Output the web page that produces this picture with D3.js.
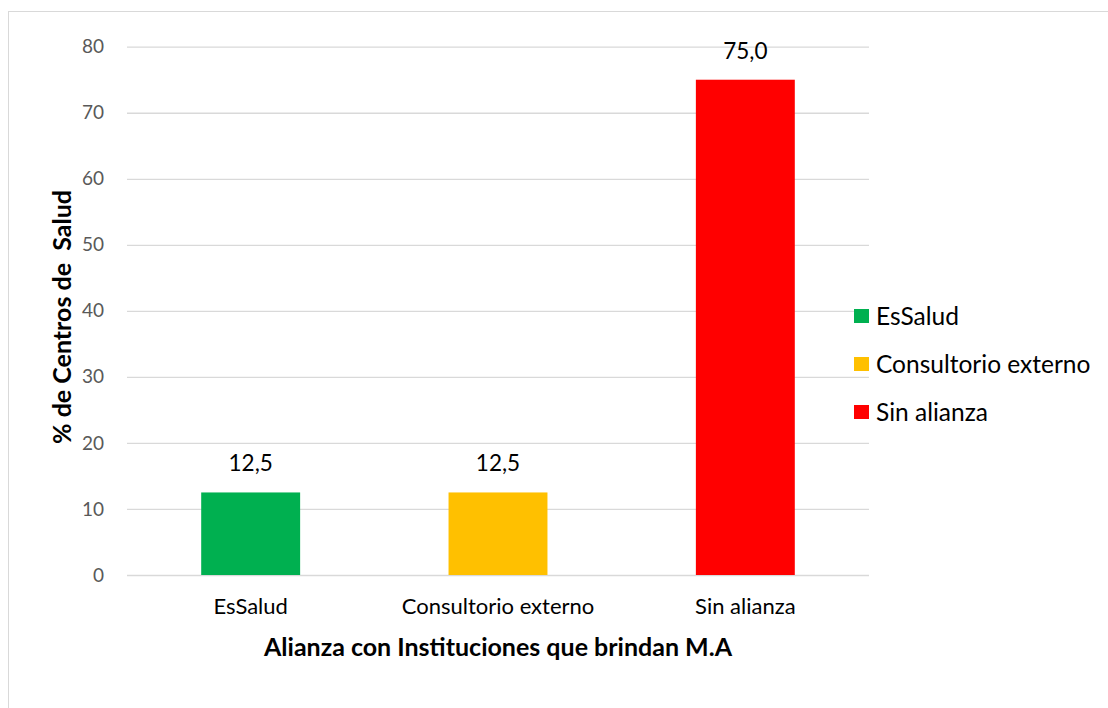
<!DOCTYPE html>
<html>
<head>
<meta charset="utf-8">
<script src="https://cdn.jsdelivr.net/npm/d3@7"></script>
<style>
  body { margin: 0; background: #fff; }
  svg text { font-family: Lato, "Open Sans", sans-serif; }
</style>
</head>
<body>
<div id="chart"></div>
<script>
// data
var categories = ['EsSalud', 'Consultorio externo', 'Sin alianza'];
var values = [12.5, 12.5, 75.0];
var colors = ['#00B050', '#FFC000', '#FF0000'];
var yTicks = [0, 10, 20, 30, 40, 50, 60, 70, 80];

var width = 1108, height = 708;
var plot = {left: 127, right: 869, top: 46.7, bottom: 575};

var svg = d3.select('#chart').append('svg')
    .attr('width', width)
    .attr('height', height);

// chart border
svg.append('rect')
    .attr('x', 8.5).attr('y', 11.5)
    .attr('width', 1200).attr('height', 800)
    .attr('fill', 'none')
    .attr('stroke', '#D9D9D9');

var x = d3.scaleBand()
    .domain(categories)
    .range([plot.left, plot.right])
    .paddingInner(0.6)
    .paddingOuter(0.3);

var y = d3.scaleLinear()
    .domain([0, 80])
    .range([plot.bottom, plot.top]);

// grid + y labels
var yAxis = d3.axisLeft(y)
    .tickValues(yTicks)
    .tickSize(-(plot.right - plot.left))
    .tickPadding(23)
    .tickFormat(d3.format('d'));

var gY = svg.append('g')
    .attr('transform', 'translate(' + plot.left + ',0)')
    .call(yAxis);
gY.select('.domain').remove();
gY.selectAll('line').attr('stroke', '#D9D9D9').attr('stroke-width', 1.3);
gY.selectAll('text')
    .attr('fill', '#595959')
    .style('font-size', '19px');

// bars
svg.append('g').selectAll('rect')
    .data(values)
    .enter().append('rect')
    .attr('x', function (d, i) { return x(categories[i]); })
    .attr('y', function (d) { return y(d); })
    .attr('width', x.bandwidth())
    .attr('height', function (d) { return y(0) - y(d); })
    .attr('fill', function (d, i) { return colors[i]; });

// value labels
var fmt = function (d) { return d.toFixed(1).replace('.', ','); };
svg.append('g').selectAll('text')
    .data(values)
    .enter().append('text')
    .attr('x', function (d, i) { return x(categories[i]) + x.bandwidth() / 2; })
    .attr('y', function (d) { return y(d) - 21; })
    .attr('text-anchor', 'middle')
    .attr('fill', '#000')
    .style('font-size', '22.5px')
    .text(fmt);

// category labels
svg.append('g').selectAll('text')
    .data(categories)
    .enter().append('text')
    .attr('x', function (d) { return x(d) + x.bandwidth() / 2; })
    .attr('y', plot.bottom + 39)
    .attr('text-anchor', 'middle')
    .attr('fill', '#000')
    .style('font-size', '22px')
    .text(function (d) { return d; });

// axis titles
svg.append('text')
    .attr('x', (plot.left + plot.right) / 2)
    .attr('y', 656)
    .attr('text-anchor', 'middle')
    .style('font-size', '25px')
    .style('font-weight', 'bold')
    .text('Alianza con Instituciones que brindan M.A');

svg.append('text')
    .attr('transform', 'translate(71,317) rotate(-90)')
    .attr('text-anchor', 'middle')
    .style('font-size', '25px')
    .style('font-weight', 'bold')
    .style('white-space', 'pre')
    .text('% de Centros de  Salud');

// legend
var legend = svg.append('g').selectAll('g')
    .data(categories)
    .enter().append('g')
    .attr('transform', function (d, i) { return 'translate(854,' + (316 + i * 48) + ')'; });

legend.append('rect')
    .attr('x', 0).attr('y', -7)
    .attr('width', 15).attr('height', 14)
    .attr('fill', function (d, i) { return colors[i]; });

legend.append('text')
    .attr('x', 22)
    .attr('y', 8.5)
    .attr('fill', '#000')
    .style('font-size', '24.5px')
    .text(function (d) { return d; });
</script>
</body>
</html>
